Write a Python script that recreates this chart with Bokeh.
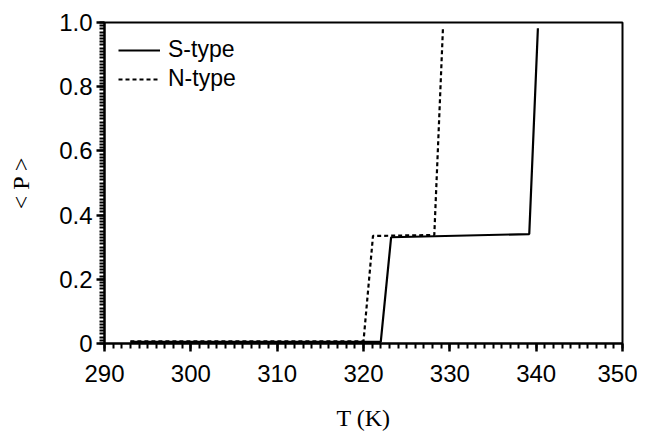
from bokeh.plotting import figure
from bokeh.models import FixedTicker, Legend, LegendItem
from bokeh.embed import file_html
from bokeh.resources import INLINE

# Data
s_T = [293.0, 322.0, 323.2, 339.2, 340.2]
s_P = [0.005, 0.005, 0.331, 0.341, 0.982]
n_T = [293.0, 320.0, 321.1, 328.2, 329.2]
n_P = [0.007, 0.007, 0.335, 0.338, 0.980]
series_names = ["S-type", "N-type"]
x_label = "T (K)"
y_label = "< P >"
x_ticks = [290, 300, 310, 320, 330, 340, 350]
y_ticks = [0, 0.2, 0.4, 0.6, 0.8, 1.0]
y_tick_labels = ["0", "0.2", "0.4", "0.6", "0.8", "1.0"]

FONT = "Liberation Sans"
SERIF = "Liberation Serif"

x_minor = [x_ticks[0] + i for i in range(0, x_ticks[-1] - x_ticks[0] + 1)]
y_minor = [round(i * 0.01, 2) for i in range(0, 101)]

p = figure(width=637, height=430, output_backend="svg", toolbar_location=None,
           x_range=(290, 350), y_range=(0, 1.0),
           min_border_left=104, min_border_right=15, min_border_top=22, min_border_bottom=87)
p.frame_width = 518
p.frame_height = 321

p.xgrid.visible = False
p.ygrid.visible = False
p.background_fill_color = "white"
p.border_fill_color = "white"
p.outline_line_color = "black"
p.outline_line_width = 2
p.outline_line_alpha = 1

p.xaxis.ticker = FixedTicker(ticks=x_ticks, minor_ticks=x_minor)
p.yaxis.ticker = FixedTicker(ticks=y_ticks, minor_ticks=y_minor)
p.yaxis.major_label_overrides = {t: lab for t, lab in zip(y_ticks, y_tick_labels)}

for ax in (p.xaxis[0], p.yaxis[0]):
    ax.axis_line_color = "black"
    ax.axis_line_width = 2
    ax.major_tick_line_color = "black"
    ax.major_tick_line_width = 2.5
    ax.minor_tick_line_color = "black"
    ax.minor_tick_line_width = 2
    ax.major_tick_in = 0
    ax.major_tick_out = 8
    ax.minor_tick_in = 0
    ax.minor_tick_out = 5
    ax.major_label_text_font = FONT
    ax.major_label_text_font_size = "24px"
    ax.major_label_text_color = "black"
    ax.axis_label_text_font = SERIF
    ax.axis_label_text_font_size = "24px"
    ax.axis_label_text_font_style = "normal"
    ax.axis_label_text_color = "black"

p.xaxis.axis_label = x_label
p.yaxis.axis_label = y_label
p.xaxis.major_label_standoff = 13
p.yaxis.major_label_standoff = 4
p.xaxis.axis_label_standoff = 20
p.yaxis.axis_label_standoff = 22

r_s = p.line(s_T, s_P, line_color="black", line_width=2.2)
r_n = p.line(n_T, n_P, line_color="black", line_width=2.2, line_dash="4 3")

legend = Legend(items=[LegendItem(label=series_names[0], renderers=[r_s]),
                       LegendItem(label=series_names[1], renderers=[r_n])],
                location="top_left")
legend.border_line_alpha = 0
legend.background_fill_alpha = 0
legend.margin = 4
legend.padding = 10
legend.spacing = 2
legend.glyph_width = 42
legend.glyph_height = 24
legend.label_standoff = 8
legend.label_text_font = FONT
legend.label_text_font_size = "23px"
legend.label_text_color = "black"
p.add_layout(legend)

open("out.html", "w").write(file_html(p, INLINE))
